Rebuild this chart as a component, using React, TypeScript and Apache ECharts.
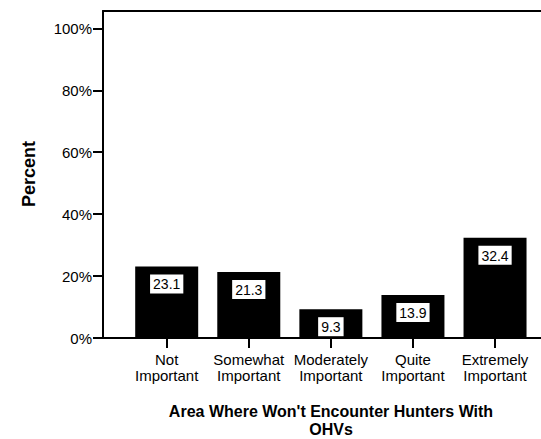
import React, { useEffect, useRef } from "react";
import * as echarts from "echarts";

const categories = ["Not\nImportant", "Somewhat\nImportant", "Moderately\nImportant", "Quite\nImportant", "Extremely\nImportant"];
const positions = [1, 2, 3, 4, 5];
const percents = [23.1, 21.3, 9.3, 13.9, 32.4];
const yTicks = [0, 20, 40, 60, 80, 100];
const xTitle = "Area Where Won't Encounter Hunters With\nOHVs";
const yTitle = "Percent";

const FONT = "'Liberation Sans', Arial, Helvetica, sans-serif";

export default function App() {
  const ref = useRef<HTMLDivElement>(null);
  useEffect(() => {
    if (!ref.current) return;
    const chart = echarts.init(ref.current, undefined, { renderer: "svg" });
    const axisLine = { show: true, onZero: false, lineStyle: { color: "#000", width: 2 } };
    chart.setOption({
      animation: false,
      backgroundColor: "#fff",
      grid: { left: 103, right: 0, top: 11, bottom: 101, containLabel: false },
      xAxis: [
        {
          type: "value",
          position: "bottom",
          min: 0.224,
          max: 5.56,
          axisLine,
          splitLine: { show: false },
          axisTick: {
            show: true,
            customValues: positions,
            length: 10,
            lineStyle: { color: "#000", width: 2 },
          },
          axisLabel: {
            show: true,
            customValues: positions,
            margin: 13,
            formatter: (v: number) => categories[Math.round(v) - 1] ?? "",
            color: "#000",
            fontFamily: FONT,
            fontSize: 15,
            lineHeight: 16,
          },
        },
        {
          type: "value",
          position: "top",
          min: 0.224,
          max: 5.56,
          axisLine,
          splitLine: { show: false },
          axisTick: { show: false },
          axisLabel: { show: false },
        },
      ],
      yAxis: {
        type: "value",
        min: 0,
        max: 105.6,
        axisLine,
        splitLine: { show: false },
        axisTick: {
          show: true,
          customValues: yTicks,
          length: 10,
          lineStyle: { color: "#000", width: 2 },
        },
        axisLabel: {
          show: true,
          customValues: yTicks,
          margin: 11,
          formatter: (v: number) => `${v}%`,
          color: "#000",
          fontFamily: FONT,
          fontSize: 15,
        },
      },
      graphic: [
        {
          type: "text",
          x: 331,
          y: 402,
          style: {
            text: xTitle,
            align: "center",
            verticalAlign: "top",
            font: `bold 16px ${FONT}`,
            lineHeight: 18.5,
            fill: "#000",
          },
        },
        {
          type: "text",
          x: 29,
          y: 174,
          rotation: Math.PI / 2,
          style: {
            text: yTitle,
            align: "center",
            verticalAlign: "middle",
            font: `bold 18px ${FONT}`,
            fill: "#000",
          },
        },
      ],
      series: [
        {
          type: "bar",
          xAxisIndex: 0,
          barWidth: 63,
          itemStyle: { color: "#000" },
          data: positions.map((p, i) => [p, percents[i]]),
          label: {
            show: true,
            position: "insideTop",
            distance: 8,
            formatter: (p: any) => p.value[1].toFixed(1),
            color: "#000",
            backgroundColor: "#fff",
            padding: [3, 3, 2, 3],
            fontFamily: FONT,
            fontSize: 14,
          },
        },
      ],
    });
    return () => chart.dispose();
  }, []);
  return (
    <div
      ref={ref}
      style={{ position: "fixed", left: 0, top: 0, width: 541, height: 439, background: "#fff" }}
    />
  );
}
